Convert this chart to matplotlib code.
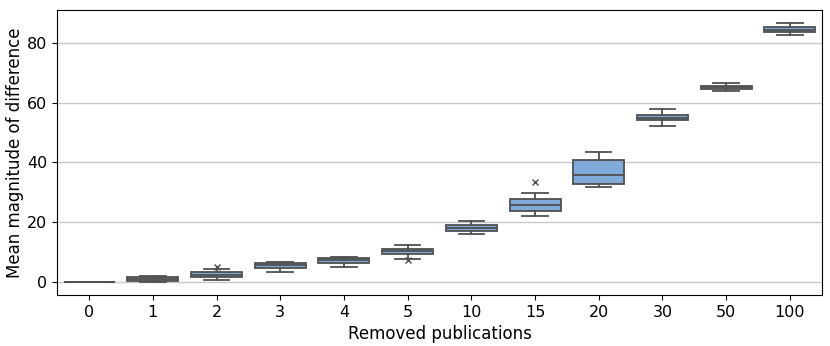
import matplotlib
matplotlib.use("Agg")
import matplotlib.pyplot as plt

categories = ["0", "1", "2", "3", "4", "5", "10", "15", "20", "30", "50", "100"]
medians = [0.0, 1.0, 2.5, 5.6, 7.3, 10.3, 18.2, 25.9, 35.7, 55.0, 65.1, 84.4]
q1 = [0.0, 0.3, 1.7, 4.8, 6.4, 9.3, 17.2, 23.9, 32.9, 54.1, 64.6, 83.6]
q3 = [0.1, 1.8, 3.3, 6.3, 8.1, 11.1, 19.2, 27.8, 40.7, 55.8, 65.6, 85.1]
whis_lo = [0.0, 0.0, 0.9, 3.5, 5.0, 7.9, 16.2, 22.2, 31.8, 52.2, 64.0, 82.6]
whis_hi = [0.2, 2.1, 4.3, 6.9, 8.5, 12.3, 20.6, 29.9, 43.6, 57.8, 66.6, 86.5]
fliers = [[], [], [5.2], [], [], [7.5], [], [33.4], [], [], [], []]

stats = []
for i in range(len(categories)):
    stats.append({"med": medians[i], "q1": q1[i], "q3": q3[i],
                  "whislo": whis_lo[i], "whishi": whis_hi[i],
                  "fliers": fliers[i], "label": categories[i]})

fig, ax = plt.subplots(figsize=(8.3, 3.46), dpi=100)
edge = "#505050"
ax.bxp(stats, positions=range(len(categories)), widths=0.8, patch_artist=True,
       boxprops=dict(facecolor="#80aad9", edgecolor=edge, linewidth=1.3),
       medianprops=dict(color=edge, linewidth=1.3),
       whiskerprops=dict(color=edge, linewidth=1.3),
       capprops=dict(color=edge, linewidth=1.3),
       capwidths=0.4,
       flierprops=dict(marker="x", markersize=4, markeredgecolor=edge, markeredgewidth=1))

ax.set_xlim(-0.5, len(categories) - 0.5)
ax.set_ylim(-4.3, 90.8)
ax.set_yticks([0, 20, 40, 60, 80])
ax.yaxis.grid(True, color="#c8c8c8", linewidth=1)
ax.set_axisbelow(True)
ax.set_xlabel("Removed publications", fontsize=12)
ax.set_ylabel("Mean magnitude of difference", fontsize=12)
ax.yaxis.set_label_coords(-0.043, 0.5)
ax.tick_params(labelsize=11.5)

plt.subplots_adjust(left=0.069, right=0.99, top=0.97, bottom=0.147)
plt.savefig("out.png")
plt.close()
